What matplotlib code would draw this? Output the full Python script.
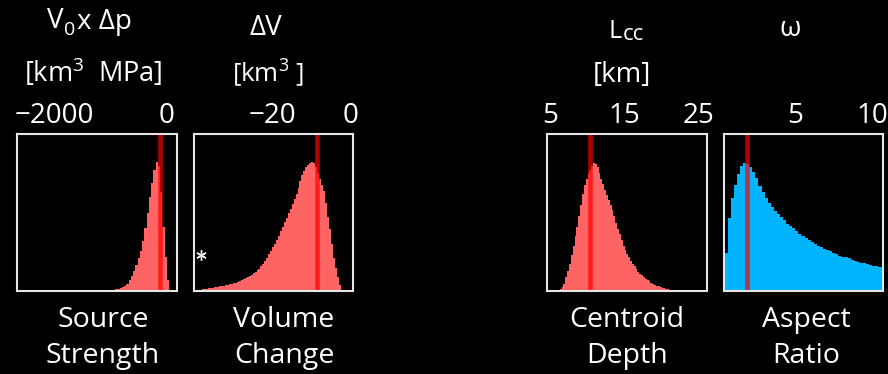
import numpy as np
import matplotlib
matplotlib.use("Agg")
import matplotlib.pyplot as plt

plt.rcParams["font.family"] = ["Open Sans", "DejaVu Sans"]
plt.rcParams["mathtext.fontset"] = "custom"
plt.rcParams["mathtext.rm"] = "Open Sans"
plt.rcParams["mathtext.it"] = "Open Sans:italic"
plt.rcParams["mathtext.default"] = "regular"

# ---- posterior histograms (relative height) and best-fit values ----
strength_start, strength_step = -1000, 40
strength_hist = [0.002, 0.005, 0.008, 0.013, 0.019, 0.026, 0.033, 0.043, 0.067,
                 0.096, 0.128, 0.164, 0.205, 0.255, 0.315, 0.400, 0.495, 0.596,
                 0.685, 0.765, 0.820, 0.792, 0.625, 0.405, 0.215, 0.070]
strength_best = -124
strength_ticks = [-2000, 0]
strength_lim = (-2650, 172)

volume_start, volume_step = -40, 0.5
volume_hist = [0.002, 0.003, 0.005, 0.007, 0.009, 0.011, 0.013, 0.015, 0.017,
               0.019, 0.021, 0.023, 0.025, 0.027, 0.030, 0.032, 0.035, 0.037,
               0.040, 0.042, 0.046, 0.052, 0.058, 0.064, 0.070, 0.076, 0.082,
               0.088, 0.094, 0.101, 0.110, 0.119, 0.129, 0.141, 0.154, 0.170,
               0.190, 0.210, 0.232, 0.255, 0.277, 0.299, 0.322, 0.350, 0.379,
               0.408, 0.436, 0.465, 0.493, 0.522, 0.554, 0.586, 0.618, 0.655,
               0.697, 0.735, 0.760, 0.785, 0.800, 0.811, 0.821, 0.810, 0.790,
               0.750, 0.710, 0.675, 0.635, 0.555, 0.470, 0.390, 0.300, 0.205,
               0.145, 0.090, 0.035, 0.005]
volume_best = -8.4
volume_ticks = [-20, 0]
volume_lim = (-40, 0.8)

depth_start, depth_step = 6.0, 0.25
depth_hist = [0.002, 0.008, 0.025, 0.045, 0.084, 0.125, 0.172, 0.225, 0.285,
              0.345, 0.407, 0.477, 0.547, 0.618, 0.675, 0.712, 0.742, 0.769,
              0.792, 0.815, 0.803, 0.784, 0.748, 0.712, 0.677, 0.641, 0.606,
              0.576, 0.547, 0.511, 0.474, 0.432, 0.393, 0.358, 0.323, 0.286,
              0.260, 0.236, 0.212, 0.190, 0.172, 0.154, 0.136, 0.121, 0.109,
              0.097, 0.086, 0.076, 0.068, 0.059, 0.051, 0.044, 0.038, 0.032,
              0.027, 0.023, 0.020, 0.017, 0.013, 0.009, 0.006, 0.003]
depth_best = 10.3
depth_ticks = [5, 15, 25]
depth_lim = (4.57, 26.1)

aspect_start, aspect_step = 0.4, 0.2
aspect_hist = [0.240, 0.460, 0.590, 0.670, 0.740, 0.795, 0.810, 0.805, 0.785,
               0.755, 0.720, 0.665, 0.625, 0.590, 0.560, 0.532, 0.510, 0.490,
               0.470, 0.450, 0.427, 0.413, 0.400, 0.380, 0.362, 0.348, 0.334,
               0.320, 0.307, 0.295, 0.286, 0.277, 0.268, 0.259, 0.250, 0.240,
               0.231, 0.222, 0.217, 0.212, 0.205, 0.195, 0.188, 0.183, 0.179,
               0.175, 0.170, 0.165, 0.160, 0.156, 0.152, 0.149]
aspect_best = 1.88
aspect_ticks = [5, 10]
aspect_lim = (0.36, 10.73)

RED_FILL = "#ff6464"
BLUE_FILL = "#00b4ff"

W, H = 888, 374
fig = plt.figure(figsize=(W / 100, H / 100), dpi=100)
fig.patch.set_facecolor("black")

panels = [
    (17.3, strength_start, strength_step, strength_hist, strength_best,
     strength_ticks, strength_lim, RED_FILL),
    (194.0, volume_start, volume_step, volume_hist, volume_best,
     volume_ticks, volume_lim, RED_FILL),
    (547.3, depth_start, depth_step, depth_hist, depth_best,
     depth_ticks, depth_lim, RED_FILL),
    (724.0, aspect_start, aspect_step, aspect_hist, aspect_best,
     aspect_ticks, aspect_lim, BLUE_FILL),
]

TOP, PW, PH = 133.5, 159.4, 157.2
axes = []
for left, start, step, hist, best, ticks, lim, color in panels:
    ax = fig.add_axes([left / W, 1 - (TOP + PH) / H, PW / W, PH / H])
    ax.set_facecolor("black")
    edges = start + step * np.arange(len(hist) + 1)
    ax.stairs(hist, edges, fill=True, color=color, linewidth=0, zorder=1)
    ax.axvline(best, color="red", alpha=0.7, linewidth=3.3, zorder=2)
    ax.set_xlim(*lim)
    ax.set_ylim(0, 1)
    ax.set_yticks([])
    ax.set_xticks(ticks)
    ax.set_xticklabels([f"{t}".replace("-", "\u2212") for t in ticks])
    ax.xaxis.tick_top()
    ax.tick_params(axis="x", length=0, pad=2.5, labelsize=20, labelcolor="white")
    for sp in ax.spines.values():
        sp.set_color("#e6e6e6")
        sp.set_linewidth(1.5)
        sp.set_zorder(3)
    axes.append(ax)

# asterisk marker on the volume-change panel
axes[1].plot([0.046], [0.227], marker=(6, 2, 0), markersize=7.5, color="#eeeeee",
             markeredgewidth=1.0, transform=axes[1].transAxes, clip_on=False,
             zorder=4)


def ftext(x, y, s, size, ha="center"):
    fig.text(x / W, 1 - y / H, s, color="white", fontsize=size,
             ha=ha, va="baseline")


# parameter names and units
ftext(46.5, 28.5, "V", 20, ha="left")
ftext(63.5, 35, "0", 14, ha="left")
ftext(77, 28.5, "x \u0394p", 20, ha="left")
ftext(93, 82, "[km$^3$  MPa]", 19.5)

ftext(266, 35, "\u0394V", 20)
ftext(268, 82, "[km$^3$ ]", 18.5)

ftext(608, 38, "L", 18, ha="left")
ftext(622.5, 40, "cc", 16, ha="left")
ftext(621.5, 82, "[km]", 20)

ftext(790, 36.5, "\u03c9", 20)

# panel captions
for x, top_word, bottom_word in [(103, "Source", "Strength"),
                                 (284, "Volume", "Change"),
                                 (627, "Centroid", "Depth"),
                                 (806, "Aspect", "Ratio")]:
    ftext(x, 327, top_word, 20.5)
    ftext(x, 363, bottom_word, 20.5)

fig.savefig("out.png", dpi=100, facecolor="black")
